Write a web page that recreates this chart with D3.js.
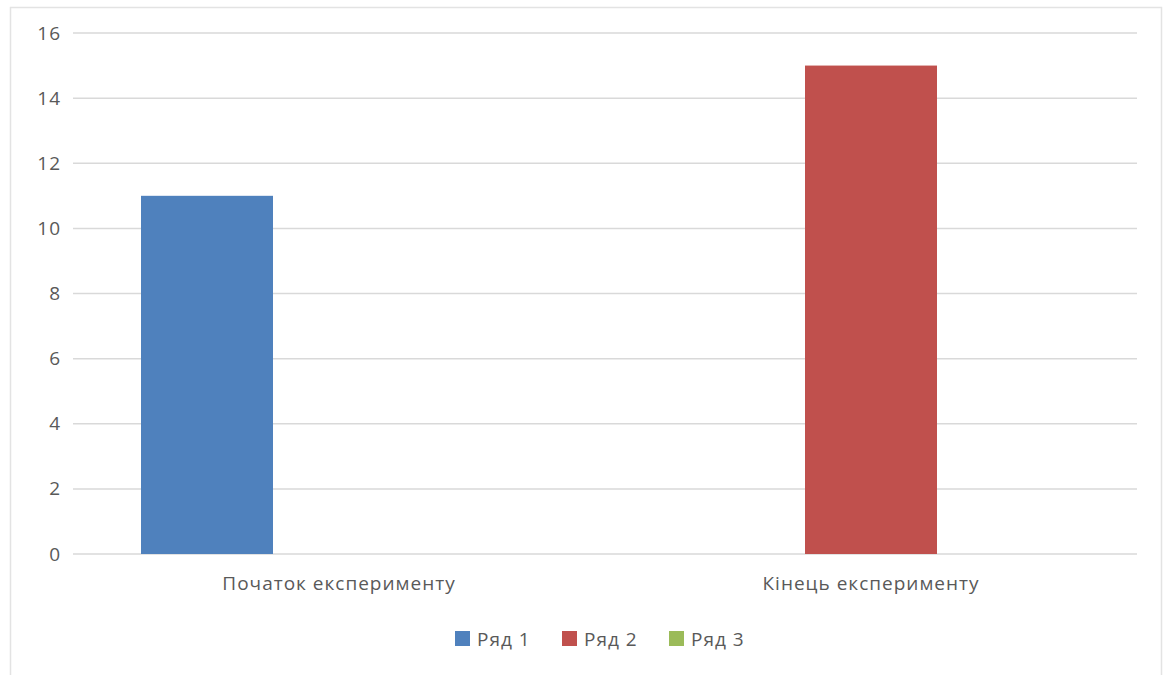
<!DOCTYPE html>
<html>
<head>
<meta charset="utf-8">
<script src="https://cdn.jsdelivr.net/npm/d3@7"></script>
<style>
  html, body { margin: 0; padding: 0; background: #fff; }
  svg text { font-family: "Open Sans", "Noto Sans", sans-serif; fill: #595959; }
</style>
</head>
<body>
<svg id="chart" width="1167" height="675"></svg>
<script>
// Categories and series
const categories = ["Початок експерименту", "Кінець експерименту"];
const seriesNames = ["Ряд 1", "Ряд 2", "Ряд 3"];
const series1 = [11, null];
const series2 = [null, 15];
const series3 = [null, null];
const seriesColors = ["#4F81BD", "#C0504D", "#9BBB59"];
const yTicks = [0, 2, 4, 6, 8, 10, 12, 14, 16];

const seriesValues = [series1, series2, series3];
const labelFont = { size: "19px", spacing: "1px" };

const svg = d3.select("#chart");

// Chart frame
svg.append("rect")
  .attr("x", 10.5).attr("y", 7.5)
  .attr("width", 1151).attr("height", 700)
  .attr("fill", "#fff")
  .attr("stroke", "#e3e3e3").attr("stroke-width", 1.5);

const plot = { left: 73, right: 1137, top: 33, bottom: 554 };

const x0 = d3.scaleBand()
  .domain(categories)
  .range([plot.left, plot.right])
  .paddingInner(0).paddingOuter(0);

const bandW = x0.bandwidth();
const groupW = bandW * 396 / 532;
const x1 = d3.scaleBand()
  .domain(seriesNames)
  .range([(bandW - groupW) / 2, (bandW + groupW) / 2])
  .padding(0);

const y = d3.scaleLinear().domain([0, 16]).range([plot.bottom, plot.top]);

// Gridlines
svg.append("g")
  .selectAll("line")
  .data(yTicks)
  .join("line")
  .attr("x1", plot.left).attr("x2", plot.right)
  .attr("y1", d => y(d)).attr("y2", d => y(d))
  .attr("stroke", "#d9d9d9").attr("stroke-width", 1.5);

// Y axis labels
const yAxis = d3.axisLeft(y).tickValues(yTicks).tickSize(0).tickPadding(0);
const yg = svg.append("g").attr("transform", `translate(${plot.left - 12},0)`).call(yAxis);
yg.select(".domain").remove();
yg.selectAll("text")
  .style("font-size", labelFont.size)
  .style("letter-spacing", labelFont.spacing)
  .style("font-family", "'Open Sans', sans-serif")
  .attr("fill", "#595959");

// Bars
const groups = svg.append("g")
  .selectAll("g")
  .data(categories)
  .join("g")
  .attr("transform", d => `translate(${x0(d)},0)`);

groups.selectAll("rect")
  .data((c, ci) => seriesNames.map((s, si) => ({ s, si, v: seriesValues[si][ci] })))
  .join("rect")
  .filter(d => d.v != null)
  .attr("x", d => x1(d.s))
  .attr("width", x1.bandwidth())
  .attr("y", d => y(d.v))
  .attr("height", d => y(0) - y(d.v))
  .attr("fill", d => seriesColors[d.si]);

// Category axis labels
const xAxis = d3.axisBottom(x0).tickSize(0).tickPadding(0);
const xg = svg.append("g").attr("transform", `translate(0,${plot.bottom + 22})`).call(xAxis);
xg.select(".domain").remove();
xg.selectAll("text")
  .style("font-size", labelFont.size)
  .style("letter-spacing", labelFont.spacing)
  .style("font-family", "'Open Sans', sans-serif")
  .attr("fill", "#595959");

// Legend
const legendX = [455, 562, 669];
const legend = svg.append("g")
  .selectAll("g")
  .data(seriesNames)
  .join("g")
  .attr("transform", (d, i) => `translate(${legendX[i]},631)`);
legend.append("rect")
  .attr("width", 15).attr("height", 15)
  .attr("fill", (d, i) => seriesColors[i]);
legend.append("text")
  .attr("x", 22).attr("y", 15)
  .style("font-size", labelFont.size)
  .style("letter-spacing", labelFont.spacing)
  .text(d => d);
</script>
</body>
</html>
